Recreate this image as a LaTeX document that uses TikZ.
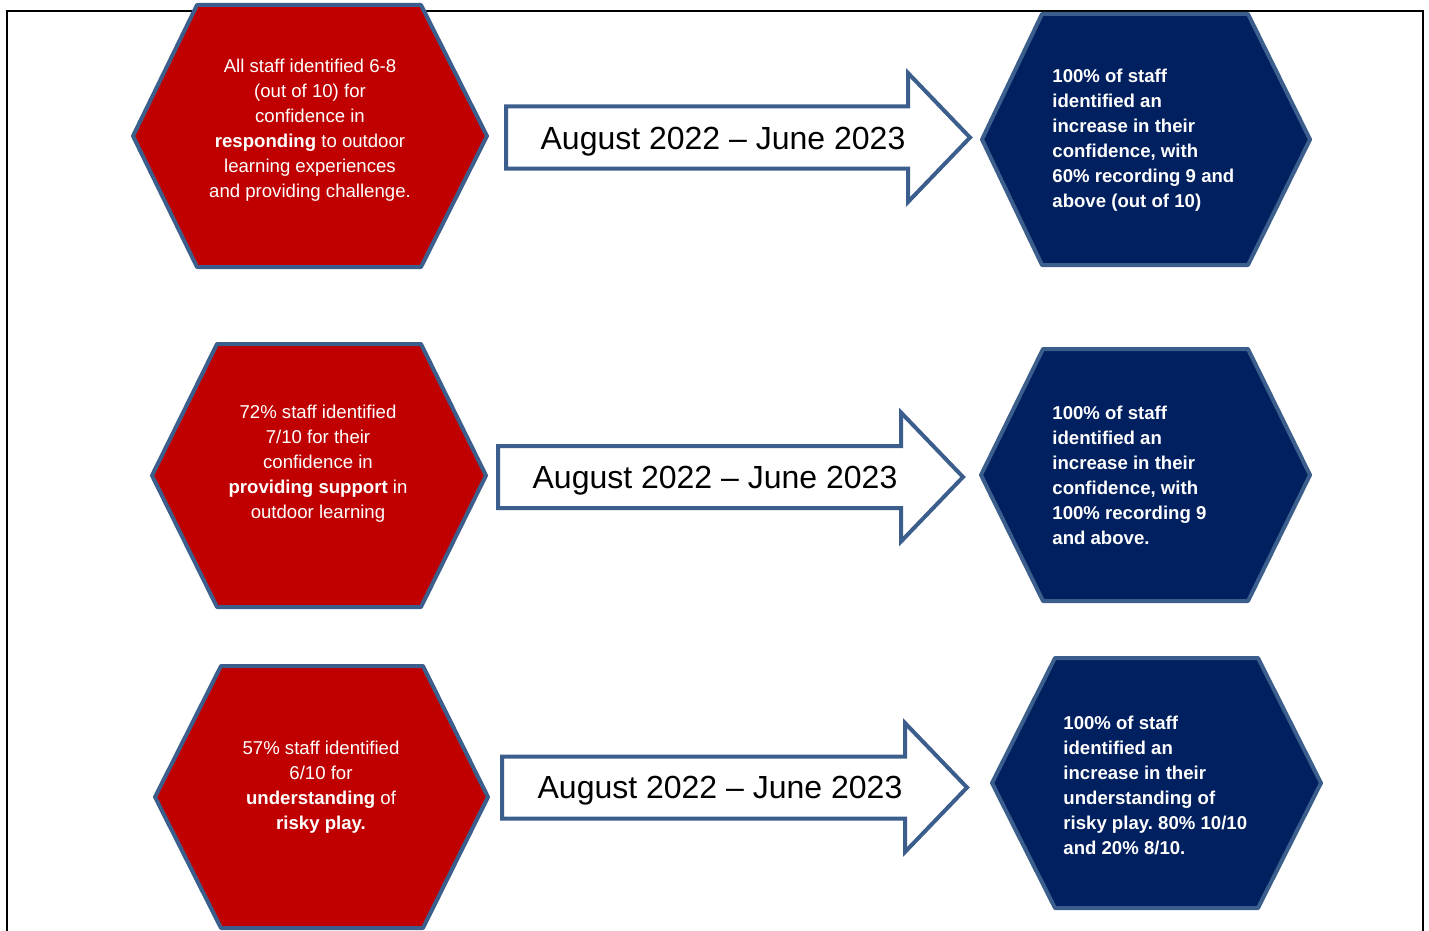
\documentclass[tikz,border=0pt]{standalone}
\usepackage{fontspec}
\setmainfont{Liberation Sans}
\usetikzlibrary{positioning}
\definecolor{hexred}{RGB}{192,0,0}
\definecolor{hexblue}{RGB}{0,32,96}
\definecolor{edgeblue}{RGB}{59,94,140}
\frenchspacing

\begin{document}
\begin{tikzpicture}
[x=0.5pt,y=-0.5pt,
 redhex/.style={fill=hexred,draw=edgeblue,line width=2pt,line join=round},
 bluehex/.style={fill=hexblue,draw=edgeblue,line width=2pt,line join=round},
 block/.style={fill=white,draw=edgeblue,line width=2pt},
 redtxt/.style={text=white,align=center,inner sep=0pt,font=\fontsize{9.3}{12.5}\selectfont},
 bluetxt/.style={text=white,align=left,inner sep=0pt,anchor=west,font=\bfseries\fontsize{9.3}{12.5}\selectfont},
 datetxt/.style={inner sep=0pt,font=\fontsize{16}{18}\selectfont}]

\useasboundingbox (0,0) rectangle (1429,931);
\draw[line width=1pt] (7,931) -- (7,11) -- (1423,11) -- (1423,931);

% hexagons: left/top-left/top-right/right/top/bottom/style
\foreach \l/\a/\b/\r/\t/\d/\s in {133/197/421/487/5/267/redhex,
    152/217/421/486/344/607/redhex,
    155/221/423/488/666/928/redhex,
    982/1042/1248/1310/14/265/bluehex,
    981/1043/1248/1310/349/601/bluehex,
    992/1055/1258/1321/658/908/bluehex}
\draw[\s] (\l,{(\t+\d)/2}) -- (\a,\t) -- (\b,\t) -- (\r,{(\t+\d)/2})
    -- (\b,\d) -- (\a,\d) -- cycle;

% block arrows: shaft start/centre y/head base/tip
\foreach \l/\c/\h/\p in {506/137.5/908/970, 498/477/901/963, 502/787.5/905/967}
\draw[block] (\l,\c-31) -- (\h,\c-31) -- (\h,\c-64.5) -- (\p,\c)
    -- (\h,\c+64.5) -- (\h,\c+31) -- (\l,\c+31) -- cycle;

\node[datetxt] (date1) at (723,142) {August 2022 – June 2023};
\node[datetxt] (date2) at (715,481) {August 2022 – June 2023};
\node[datetxt] (date3) at (720,791) {August 2022 – June 2023};

\node[redtxt] (before1) at (310,130) {All staff identified 6-8\\(out of 10) for\\confidence in\\\textbf{responding} to outdoor\\learning experiences\\and providing challenge.};
\node[redtxt] (before2) at (318,464) {72\% staff identified\\7/10 for their\\confidence in\\\textbf{providing support} in\\outdoor learning};
\node[redtxt] (before3) at (321,787) {57\% staff identified\\6/10 for\\\textbf{understanding} of\\\textbf{risky play.}};

\node[bluetxt] (after1) at (1052,140) {100\% of staff\\identified an\\increase in their\\confidence, with\\60\% recording 9 and\\above (out of 10)};
\node[bluetxt] (after2) at (1052,475) {100\% of staff\\identified an\\increase in their\\confidence, with\\100\% recording 9\\and above.};
\node[bluetxt] (after3) at (1063,785) {100\% of staff\\identified an\\increase in their\\understanding of\\risky play. 80\% 10/10\\and 20\% 8/10.};

\end{tikzpicture}
\end{document}
